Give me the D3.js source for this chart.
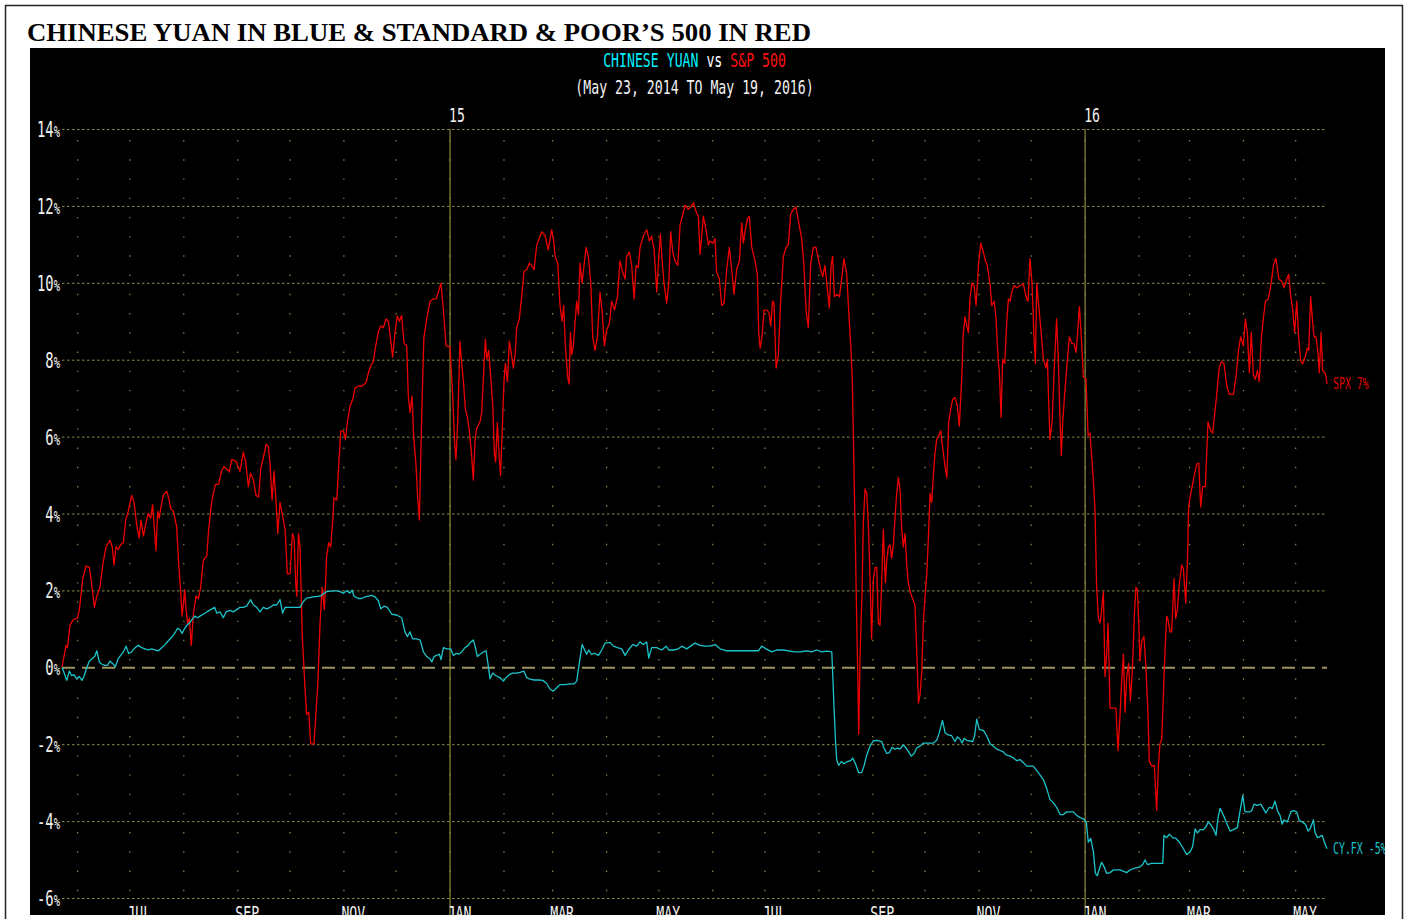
<!DOCTYPE html>
<html>
<head>
<meta charset="utf-8">
<script src="https://cdn.jsdelivr.net/npm/d3@7"></script>
<style>
  body { margin: 0; background: #fff; }
</style>
</head>
<body>
<div id="chart"></div>
<script>
const title = 'CHINESE YUAN IN BLUE & STANDARD & POOR\u2019S 500 IN RED'
const startDate = new Date(2014, 4, 23)
const endDate = new Date(2016, 4, 19)
const yTicks = [-6, -4, -2, 0, 2, 4, 6, 8, 10, 12, 14]
const yearMarks = [new Date(2015, 0, 1), new Date(2016, 0, 1)]
const yearLabels = ['15', '16']
const endLabels = ['SPX 7%', 'CY.FX -5%']

// [days since May 23 2014, % change]
const spxPoints = [[0,0],[2.3,0.57],[3.1,0.51],[4.6,1.09],[6.5,1.24],[8.8,1.27],[10,1.5],[11.9,2.3],[13.8,2.64],[15.7,2.6],[17,2.2],[18.6,1.56],[20,1.85],[21.8,2.08],[23.4,2.66],[25.3,3.13],[27.6,3.3],[28.9,3.13],[29.9,2.66],[31,3.13],[32.4,3.07],[33.7,3.19],[35.3,3.24],[36.6,3.83],[38.1,4.06],[40,4.47],[41.4,4.29],[42.9,3.71],[44.3,3.36],[45.4,3.83],[46.8,3.42],[48.3,3.77],[49.6,4.0],[51,3.88],[52.1,4.23],[53.1,3.59],[54,3.03],[55,4.06],[55.9,3.88],[56.7,4.12],[58.2,4.47],[60.2,4.58],[61.3,4.41],[62.5,4.12],[64,4.06],[65.9,3.65],[67.1,2.66],[68.2,1.97],[69,1.33],[69.7,1.62],[70.5,2.02],[71.3,1.5],[72.2,1.15],[73.2,1.27],[74.3,0.57],[75.5,1.38],[77,1.85],[78.4,1.79],[79.7,2.08],[81.2,2.78],[83.2,2.9],[84.3,3.59],[86,4.29],[88.1,4.76],[90,4.76],[91.6,5.1],[93.1,5.22],[94.6,5.16],[96.2,5.08],[97.5,5.4],[100,5.36],[102.3,5.1],[104.2,5.59],[105.6,5.34],[107.1,4.7],[108.4,5.05],[110,4.87],[111.5,4.47],[113,4.43],[114.2,5.16],[115.7,5.45],[117.3,5.8],[118.6,5.74],[119.6,5.28],[120.7,4.35],[121.9,5.1],[123,4.29],[124,3.48],[125.3,4.29],[126.8,3.94],[128.2,3.59],[129.5,2.43],[131.1,2.43],[132.4,3.48],[133.4,3.36],[134.3,2.2],[134.9,1.85],[135.9,3.48],[136.8,3.13],[138.1,0.8],[139.7,-0.59],[140.6,-1.23],[141.8,-1.17],[142.9,-1.99],[144.8,-1.99],[146,-1.17],[147.1,-0.36],[148.3,1.15],[149.5,2.08],[150.8,1.5],[152.1,2.9],[153.3,3.24],[154.4,3.13],[155.6,3.83],[156.3,4.41],[157.9,4.35],[159,5.22],[160.2,6.15],[161.7,6.15],[162.9,5.92],[164,6.38],[165.5,6.79],[167.1,6.97],[168.4,7.26],[170.3,7.31],[172.2,7.31],[174.7,7.4],[176.1,7.66],[177.4,7.84],[178.9,7.95],[180.3,8.36],[181.8,8.73],[183.2,8.88],[184.7,8.83],[186.2,9.06],[187.6,9.0],
  [190,8.07],[191.4,8.71],[192.7,9.14],[193.9,9.0],[195.2,9.15],[196.6,8.42],[198.1,8.36],[199,7.08],[200,6.62],[201.2,7.06],[201.9,6.15],[203.5,5.22],[204.4,4.41],[205.4,3.83],[206.1,5.34],[207.3,7.55],[208,8.59],[209.6,9.06],[211.5,9.52],[213.4,9.58],[215,9.58],[216.3,9.76],[217.8,9.99],[219.2,9.29],[220.7,8.36],[223,8.34],[224.5,7.08],[225.7,5.8],[226.4,5.4],[227.4,6.38],[228.7,8.48],[229.5,8.01],[230.7,7.43],[231.8,6.73],[233,6.5],[234.1,6.15],[235.3,5.57],[236.4,4.87],[237.4,5.92],[238.3,6.21],[240.2,6.38],[241.2,6.62],[242.2,7.55],[243.3,8.53],[244.1,8.01],[245.2,8.24],[246.4,7.55],[247.5,6.85],[248.5,5.57],[249.2,5.34],[250.2,6.36],[251,5.69],[252,4.99],[252.9,6.03],[254,7.43],[254.8,7.9],[256,7.43],[257.1,8.48],[258.3,8.13],[259.4,7.78],[260.4,8.13],[261.3,8.83],[262.8,9.06],[264.2,9.64],[265.5,10.3],[267.1,10.34],[268.6,10.51],[270,10.45],[271.3,10.34],[272.8,10.98],[274.3,11.15],[275.7,11.33],[277.6,11.23],[279.5,10.86],[280.5,11.15],[281.4,11.38],[282.4,11.15],[283.4,10.69],[284.9,10.51],[286.2,9.41],[287.4,9.0],[288.3,9.41],[289.3,8.36],[290.6,7.55],[291.4,7.37],[292.2,8.71],[292.9,8.13],[293.9,8.36],[294.8,8.94],[295.8,9.52],[296.8,9.17],[297.7,10.51],[298.9,9.99],[300,10.45],[301.2,10.92],[302.5,10.69],[303.9,9.99],[305,8.59],[306.3,8.24],[307.7,8.59],[309.2,9.76],[310.6,9.17],[311.7,8.36],[313,8.77],[314.6,8.94],[315.9,9.52],[317.5,9.29],[319.2,9.64],[320.7,10.57],[322.2,10.28],[323.6,10.1],[324.5,10.69],[326.1,10.8],[327.4,10.45],[328.8,9.58],[329.9,10.45],[331.2,10.4],[332.2,10.92],[334.1,11.21],[336,11.38],[337.6,11.09],[338.9,11.21],[340.3,10.86],[341.8,9.76],[343,10.69],[343.9,11.27],[344.9,10.57],[346,9.99],[347.5,9.47],[348.7,9.99],[349.8,11.33],[351,10.8],[352.3,10.57],[353.9,10.45],[355.2,11.5],[358.1,12.02],[360,11.91],[361.3,11.97],[362.9,12.08],[364.4,11.85],[365.7,11.73],[366.7,10.74],
  [368.6,11.73],[370.1,11.38],[371.5,10.98],[372.4,11.09],[374,11.03],[375.3,11.15],[376.2,10.28],[377.8,10.1],[379.1,9.41],[380.5,9.47],[382,10.34],[383.5,10.92],[384.9,10.34],[386.2,9.7],[387.7,10.34],[389.3,10.57],[390.6,11.56],[391.6,11.03],[392.5,11.33],[393.9,11.67],[395,11.73],[396.4,10.92],[398.3,10.57],[399.6,10.22],[400.4,8.71],[401.2,8.3],[402.3,8.59],[403.5,9.29],[405,9.29],[406.3,9.23],[407.3,8.88],[408.4,9.52],[409.2,9.47],[410.4,7.78],[411.7,8.13],[413,9.52],[414.6,10.69],[416.1,10.92],[417.4,10.98],[418.8,11.79],[420.3,11.91],[421.8,11.97],[423.4,11.56],[425.1,11.15],[426.4,10.45],[427.6,9.29],[428.9,8.83],[430.3,10.51],[431.8,10.92],[433.3,10.92],[434.9,10.57],[436,10.34],[437.2,10.16],[438.5,10.45],[439.5,9.99],[441,9.35],[442,10.45],[442.9,10.69],[443.9,9.64],[445.2,9.7],[446.8,9.64],[448.1,10.1],[449.4,10.63],[451,10.22],[452.1,9.29],[453.3,8.36],[454.2,7.43],[454.8,6.03],[455.4,4.53],[456,3.13],[456.7,1.27],[457.3,-0.13],[457.9,-1.74],[458.6,0.22],[459.8,1.97],[460.5,3.71],[461.5,4.64],[462.5,4.52],[463.4,3.71],[464.4,2.31],[465.3,0.74],[466.3,2.31],[467.3,2.6],[468.2,2.6],[469.2,1.15],[470.1,1.09],[471.1,2.2],[472,3.59],[473.2,2.2],[474,2.78],[474.9,3.13],[475.9,3.19],[476.8,2.84],[477.8,3.19],[478.8,3.94],[479.7,4.52],[480.7,4.93],[481.6,4.64],[482.6,3.59],[483.5,3.13],[484.5,3.48],[485.5,2.66],[486.4,2.2],[487.4,1.97],[489.3,1.73],[490.2,1.62],[491.2,0.45],[492.2,-0.93],[493.1,-0.71],[494.1,-0.13],[495,1.15],[496,1.85],[497,2.43],[497.9,3.36],[498.9,4.52],[499.8,4.29],[500.8,4.99],[501.7,5.57],[502.7,5.92],[503.9,6.03],[505,6.15],[506.2,5.69],[507.5,5.22],[508.5,4.93],[509.6,6.38],[510.8,6.73],[511.9,6.97],[513.2,7.02],[514.6,6.79],[515.7,6.27],[517.1,7.55],[518,8.71],[519,9.12],[520,8.88],[520.9,8.71],[521.9,9.64],[523,9.99],[524.2,9.93],[525.3,9.41],[526.7,10.45],[528,11.03],[529.5,10.8],[530.7,10.57],[531.8,10.45],[533.4,9.93],[534.3,9.41],[535.7,9.52],[536.8,9.06],[538,8.01],[538.7,7.66],[539.7,6.5],[540.6,8.01],[541.8,7.9],[542.9,8.94],[543.9,9.58],[544.9,9.52],[545.8,9.76],[547.2,9.93],[548.7,9.87],[550.6,9.93],
  [552.5,9.97],[554,9.64],[555.2,9.52],[556.3,10.63],[557.5,9.99],[558.6,8.59],[559.4,7.9],[560.2,9.99],[561.3,9.41],[562.5,8.83],[564,8.01],[565.5,7.78],[566.3,8.01],[567,6.97],[567.8,5.92],[569,6.38],[570.5,8.01],[571.6,9.06],[572.6,8.01],[573.6,6.38],[574.3,5.51],[575.1,6.38],[576.2,7.08],[577.4,7.78],[578.9,8.59],[580.5,8.42],[581.6,8.42],[582.8,8.19],[583.5,8.59],[584.7,9.38],[585.8,8.59],[587,7.55],[588.5,7.49],[589.7,6.03],[590.8,6.09],[591.8,5.45],[592.7,4.87],[593.7,4.06],[594.6,2.08],[595.6,1.27],[596.6,1.15],[597.5,1.5],[598.5,1.97],[599.4,-0.24],[600.4,0.34],[601.2,1.15],[602.3,-1.06],[604.2,-1.06],[605.7,-1.06],[606.9,-2.17],[608,-1.29],[609,-0.36],[610,0.34],[610.9,-1.17],[611.9,-0.24],[613,0.1],[614,-0.88],[615.1,-0.13],[616.3,1.38],[617.2,2.08],[618,2.02],[618.8,1.15],[619.5,0.16],[620.5,0.69],[621.8,0.8],[622.8,0.1],[623.9,-0.94],[624.9,-2.45],[626.2,-2.56],[627.8,-2.56],[629.1,-3.72],[630.1,-2.56],[631,-1.99],[632,-1.87],[633,-0.71],[633.9,0.45],[634.9,1.33],[635.8,1.21],[636.8,0.92],[637.7,0.92],[639.1,2.31],[640,1.27],[641,1.5],[642.2,2.2],[643.5,2.66],[644.5,2.55],[645.8,1.67],[646.8,2.78],[647.5,4.17],[648.7,4.52],[650.2,4.87],[652.1,5.28],[653.3,5.31],[654.4,4.17],[655.6,4.7],[657.1,4.7],[658.6,6.38],[660.2,6.15],[661.3,6.09],[662.5,6.62],[663.6,7.08],[665,7.78],[666.3,7.95],[667.8,7.9],[669.4,7.31],[670.9,7.1],[673.2,7.1],[674.7,7.55],[676.1,8.24],[677.4,8.59],[678.9,8.36],[680.1,9.06],[681.2,8.71],[682.4,7.66],[683.5,8.71],[684.7,7.6],[685.8,7.49],[687,7.72],[688.1,7.43],[689.3,8.59],[690.4,9.06],[691.6,9.52],[693.3,9.58],[694.7,9.93],[696.2,10.45],[697.7,10.63],[699.3,10.1],[700.8,10.05],[702.3,9.87],[703.9,10.1],[705,10.22],[706.2,9.64],[707.3,9.29],[708.4,8.71],[709.6,9.52],[710.7,8.59],[711.9,7.95],[713.1,7.9],[714.4,8.07],[715.7,8.3],[716.5,8.24],[717.6,9.64],[718.8,8.94],[719.6,8.59],[720.7,8.59],[721.9,8.13],[722.6,7.66],[723.6,8.71],[724.5,7.72],[725.7,7.66],[726.3,7.6],[727,7.37]]

const cnyPoints = [[0,0],[1.1,-0.13],[2.7,-0.34],[4.2,-0.1],[5.6,-0.22],[6.9,-0.19],[8.4,-0.3],[10,-0.24],[11.5,-0.34],[12.6,-0.24],[14.2,-0.01],[15.7,0.16],[17.2,0.22],[18.8,0.28],[20,0.43],[21.5,0.13],[23,0.08],[24.5,0.05],[26.1,0.05],[27.6,0.16],[29.1,0.1],[30.7,0.01],[32.2,0.22],[33.7,0.31],[35.3,0.4],[36.8,0.55],[38.3,0.36],[40,0.4],[42,0.51],[43.9,0.57],[45.8,0.51],[47.7,0.48],[49.6,0.45],[51.5,0.48],[53.5,0.45],[55.4,0.43],[57.3,0.51],[59.2,0.59],[61.1,0.69],[63,0.78],[65,0.9],[66.3,1.01],[67.8,0.98],[69,0.88],[70.1,0.98],[71.7,1.09],[73.2,1.15],[74.7,1.24],[76.3,1.33],[77.8,1.29],[79.3,1.33],[81.2,1.38],[83.2,1.44],[85.5,1.5],[87.7,1.56],[88.9,1.41],[90.8,1.44],[92.7,1.29],[94.3,1.44],[96.6,1.48],[98.5,1.44],[100.4,1.5],[102.3,1.56],[104.2,1.56],[106.1,1.59],[108.4,1.76],[110,1.62],[111.9,1.56],[113.8,1.44],[115.7,1.56],[117.6,1.52],[119.6,1.56],[121.5,1.62],[123.4,1.62],[125.3,1.76],[126.8,1.41],[128.2,1.56],[131.1,1.56],[134,1.56],[136.8,1.56],[138.7,1.71],[140.6,1.8],[144.5,1.83],[148.3,1.85],[150.2,1.91],[152.1,1.97],[156,1.99],[157.9,1.99],[159.8,1.97],[161.7,1.93],[163.6,1.99],[165.5,1.93],[166.7,2.01],[167.8,1.85],[170.3,1.79],[172.2,1.79],[174.2,1.83],[176.1,1.85],[178,1.87],[179.9,1.83],[181.8,1.73],[183.2,1.52],[185.1,1.59],[187,1.56],
  [189.5,1.38],[192.3,1.36],[195.2,1.29],[197.1,0.92],[198.5,0.8],[200,0.92],[201.5,0.74],[203.8,0.74],[205.8,0.71],[207.7,0.4],[209.6,0.28],[211.5,0.22],[212.5,0.14],[213.8,0.28],[215.3,0.31],[216.9,0.34],[217.8,0.2],[219.2,0.51],[221.1,0.48],[223.4,0.48],[224.9,0.31],[226.4,0.36],[228,0.34],[229.7,0.4],[231.6,0.51],[233.5,0.57],[234.9,0.66],[236.4,0.71],[237.6,0.51],[238.7,0.28],[240.2,0.34],[242.2,0.4],[243.7,0.43],[244.8,0.1],[246,-0.3],[247.5,-0.15],[249.4,-0.22],[251.7,-0.27],[253.7,-0.36],[255.2,-0.27],[257.1,-0.19],[259,-0.15],[261.3,-0.15],[263.2,-0.13],[265.5,-0.1],[267.1,-0.27],[269,-0.31],[271.3,-0.33],[273.8,-0.33],[276.3,-0.34],[278.6,-0.42],[280.5,-0.57],[282.4,-0.62],[284.3,-0.53],[286.2,-0.45],[289.1,-0.45],[292,-0.43],[294.3,-0.43],[295.8,-0.36],[297.3,0.1],[298.9,0.59],[300.4,0.45],[301.5,0.34],[302.7,0.45],[304.2,0.34],[306.3,0.36],[308.3,0.31],[310.2,0.45],[312.1,0.63],[315,0.65],[316.9,0.55],[319.2,0.51],[321.7,0.48],[323.6,0.31],[325.5,0.45],[328,0.59],[330.3,0.55],[332.2,0.66],[334.1,0.59],[336,0.66],[337.2,0.24],[338.9,0.51],[341.8,0.51],[344.7,0.45],[347.2,0.55],[348.7,0.45],[351.4,0.45],[354.2,0.48],[356.2,0.55],[359,0.48],[361.9,0.57],[363.8,0.63],[366.7,0.57],
  [369.5,0.55],[372.4,0.55],[375.3,0.59],[378.2,0.48],[382,0.43],[387.7,0.43],[393.5,0.43],[400.2,0.43],[402.1,0.55],[404.6,0.48],[407.9,0.4],[410.7,0.45],[414.6,0.45],[418.4,0.42],[421.3,0.4],[424.1,0.4],[428,0.43],[430.9,0.4],[433.7,0.45],[436.6,0.4],[439.5,0.42],[442.4,0.4],[442.9,-0.13],[443.7,-1.06],[444.5,-1.87],[445.2,-2.4],[446.4,-2.55],[447.9,-2.45],[449.4,-2.51],[451.4,-2.45],[453.3,-2.43],[454.4,-2.36],[456,-2.51],[457.9,-2.74],[459.6,-2.74],[460.9,-2.57],[462.5,-2.28],[464.4,-2.05],[466.3,-1.91],[468.6,-1.9],[471.1,-1.93],[472.4,-2.1],[474,-2.24],[475.5,-2.22],[477,-2.08],[478.6,-2.13],[480.1,-2.1],[481.6,-2.13],[483.5,-2.02],[485.1,-2.1],[486.6,-2.2],[488.1,-2.31],[489.7,-2.24],[491.2,-2.1],[493.1,-2.05],[495,-1.97],[500.8,-1.97],[502.7,-1.9],[504.2,-1.7],[506,-1.38],[507.5,-1.7],[509.4,-1.76],[511.3,-1.78],[513.2,-1.93],[514.6,-1.81],[516.1,-1.87],[517.3,-1.97],[518.4,-1.85],[520,-1.9],[523.4,-1.93],[524.5,-1.78],[525.7,-1.35],[527.2,-1.62],[529.5,-1.64],[531.4,-1.78],[533.4,-1.99],[535.3,-2.05],[537.2,-2.13],[539.5,-2.17],[541,-2.2],[542.6,-2.28],[544.9,-2.31],[546.8,-2.36],[548.7,-2.43],[550.6,-2.4],
  [552.5,-2.48],[554.4,-2.57],[558.2,-2.57],[561.1,-2.74],[564,-2.92],[565.9,-3.15],[567.8,-3.44],[569.7,-3.52],[571.6,-3.64],[573.6,-3.83],[575.5,-3.83],[577.4,-3.76],[581.2,-3.76],[583.1,-3.85],[585.1,-3.91],[587,-3.94],[588.7,-4.03],[589.8,-4.55],[591.2,-4.45],[592.7,-4.78],[593.9,-5.36],[595,-5.42],[596.2,-5.24],[597.5,-5.07],[598.9,-5.19],[600.4,-5.36],[602.3,-5.34],[604.2,-5.27],[608,-5.27],[611.9,-5.34],[613.8,-5.27],[616.7,-5.22],[619.5,-5.19],[621.1,-5.13],[622.4,-5.01],[623.8,-5.13],[626.2,-5.1],[632.6,-5.1],[633.3,-4.37],[634.9,-4.43],[636.4,-4.34],[638.3,-4.43],[640.2,-4.45],[642.2,-4.55],[644.5,-4.72],[646.4,-4.87],[648.3,-4.8],[649.8,-4.66],[651.2,-4.2],[652.5,-4.31],[654,-4.22],[656,-4.22],[657.5,-4.14],[658.8,-4.02],[660.2,-4.1],[661.7,-4.2],[663.2,-4.37],[664.4,-3.91],[665.5,-3.67],[667.5,-3.85],[669.4,-4.06],[671.3,-4.26],[673.2,-4.22],[675.5,-4.17],[676.6,-3.85],[678.6,-3.33],[679.9,-3.76],[682.4,-3.76],[683.7,-3.73],[685.1,-3.56],[687,-3.59],[688.9,-3.56],[690.4,-3.67],[691.8,-3.79],[693.9,-3.64],[695.6,-3.67],[697.1,-3.48],[698.5,-3.73],[700,-3.85],[701.2,-4.08],[702.3,-3.97],[704.2,-4.02],[706.2,-3.76],[707.7,-3.73],[709.6,-3.76],[711.1,-3.99],[712.7,-4.02],[714.6,-4.08],[716.1,-4.26],[717.3,-4.2],[719.2,-3.97],[720.1,-4.29],[721.5,-4.43],[722.6,-4.41],[724.2,-4.37],[725.7,-4.57],[727,-4.72]]

const W = 1405, H = 919
const panel = { x: 30, y: 48, w: 1355, h: 867 }
const mono = 'DejaVu Sans Mono'
const squeeze = 0.66

const toDate = d => new Date(startDate.getTime() + d * 864e5)

const x = d3.scaleTime().domain([startDate, endDate]).range([62, 1327])
const y = d3.scaleLinear().domain([-6, 14]).range([898, 129])

const svg = d3.select('#chart')
    .append('svg')
    .attr('width', W)
    .attr('height', H)

// page frame
svg.append('rect')
    .attr('x', 5.5).attr('y', 5.5)
    .attr('width', 1397).attr('height', 1000)
    .attr('fill', '#fff')
    .attr('stroke', '#222')
    .attr('stroke-width', 1.5)

svg.append('text')
    .attr('x', 27).attr('y', 41)
    .attr('font-family', 'Liberation Serif')
    .attr('font-weight', 'bold')
    .attr('font-size', 25)
    .attr('textLength', 784)
    .attr('lengthAdjust', 'spacingAndGlyphs')
    .attr('fill', '#000')
    .text(title)

svg.append('clipPath').attr('id', 'panel')
    .append('rect')
    .attr('x', panel.x).attr('y', panel.y)
    .attr('width', panel.w).attr('height', panel.h)

const g = svg.append('g').attr('clip-path', 'url(#panel)')

g.append('rect')
    .attr('x', panel.x).attr('y', panel.y)
    .attr('width', panel.w).attr('height', panel.h)
    .attr('fill', '#000')

// narrow terminal-style text
function termText(parent, px, py, size, anchor) {
    return parent.append('text')
        .attr('transform', `translate(${px},${py}) scale(${squeeze},1)`)
        .attr('font-family', mono)
        .attr('font-size', size)
        .attr('text-anchor', anchor)
}

// header
const cx = (x.range()[0] + x.range()[1]) / 2
const h1 = termText(g, cx, 67, 20, 'middle')
h1.append('tspan').attr('fill', '#00f0ff').text('CHINESE YUAN')
h1.append('tspan').attr('fill', '#fff').text(' vs ')
h1.append('tspan').attr('fill', '#ff1010').text('S&P 500')
termText(g, cx, 94, 20, 'middle').attr('fill', '#f2f2f2')
    .text('(May 23, 2014 TO May 19, 2016)')

// monthly dotted verticals
const step = y(0) - y(0.5)
g.append('g')
    .selectAll('line')
    .data(d3.timeMonth.range(startDate, endDate))
    .join('line')
    .attr('x1', d => x(d)).attr('x2', d => x(d))
    .attr('y1', y(14)).attr('y2', y(-6))
    .attr('stroke', '#8c8c48')
    .attr('stroke-width', 1.2)
    .attr('stroke-dasharray', `1.4 ${step - 1.4}`)
    .attr('stroke-dashoffset', step - 11)

// horizontal grid + y labels
const yAxis = d3.axisLeft(y)
    .tickValues(yTicks)
    .tickSize(-(x.range()[1] - x.range()[0]))
    .tickFormat(d => d)

const ya = g.append('g')
    .attr('transform', `translate(${x.range()[0]},0)`)
    .call(yAxis)
ya.select('.domain').remove()
ya.selectAll('.tick line')
    .attr('stroke', d => d === 0 ? '#9a9460' : '#8c8c48')
    .attr('stroke-width', d => d === 0 ? 2 : 1)
    .attr('stroke-dasharray', d => d === 0 ? '13 7' : '2.5 2.5')
ya.selectAll('.tick text').each(function (d) {
    const t = d3.select(this)
    t.text(null)
        .attr('x', null).attr('dy', '0.36em')
        .attr('transform', `translate(-2,0) scale(${squeeze},1)`)
        .attr('font-family', mono)
        .attr('font-size', 21)
        .attr('fill', '#f2f2f2')
    t.append('tspan').text(d)
    t.append('tspan').attr('font-size', 16).text('%')
})

// year lines
g.append('g')
    .selectAll('line')
    .data(yearMarks)
    .join('line')
    .attr('x1', d => x(d)).attr('x2', d => x(d))
    .attr('y1', y(14)).attr('y2', panel.y + panel.h)
    .attr('stroke', '#8c8c3c')
    .attr('stroke-width', 1.2)

yearMarks.forEach((d, i) => {
    termText(g, x(d) - 1, 122, 20, 'start').attr('fill', '#f2f2f2').text(yearLabels[i])
})

// month labels (cut by the panel edge, as on the terminal)
const xAxis = d3.axisBottom(x)
    .ticks(d3.timeMonth.every(2))
    .tickSize(0)
    .tickFormat(d => d3.timeFormat('%b')(d).toUpperCase())

const xa = g.append('g')
    .attr('transform', 'translate(-3,920)')
    .call(xAxis)
xa.select('.domain').remove()
xa.selectAll('.tick text')
    .attr('y', 0).attr('dy', null)
    .attr('text-anchor', 'start')
    .attr('transform', `scale(${squeeze},1)`)
    .attr('font-family', mono)
    .attr('font-size', 20)
    .attr('fill', '#f2f2f2')

// series
const line = d3.line()
    .x(d => x(toDate(d[0])))
    .y(d => y(d[1]))

g.append('path')
    .datum(spxPoints)
    .attr('d', line)
    .attr('fill', 'none')
    .attr('stroke', '#ee0000')
    .attr('stroke-width', 1.3)
    .attr('stroke-linejoin', 'round')

g.append('path')
    .datum(cnyPoints)
    .attr('d', line)
    .attr('fill', 'none')
    .attr('stroke', '#1cc4cc')
    .attr('stroke-width', 1.3)
    .attr('stroke-linejoin', 'round')

// end labels
const lastSpx = spxPoints[spxPoints.length - 1][1]
const lastCny = cnyPoints[cnyPoints.length - 1][1]
termText(g, 1333, y(lastSpx) + 5, 15, 'start').attr('fill', '#e00000').text(endLabels[0])
termText(g, 1333, y(lastCny) + 5, 15, 'start').attr('fill', '#1cc4cc').text(endLabels[1])
</script>
</body>
</html>
